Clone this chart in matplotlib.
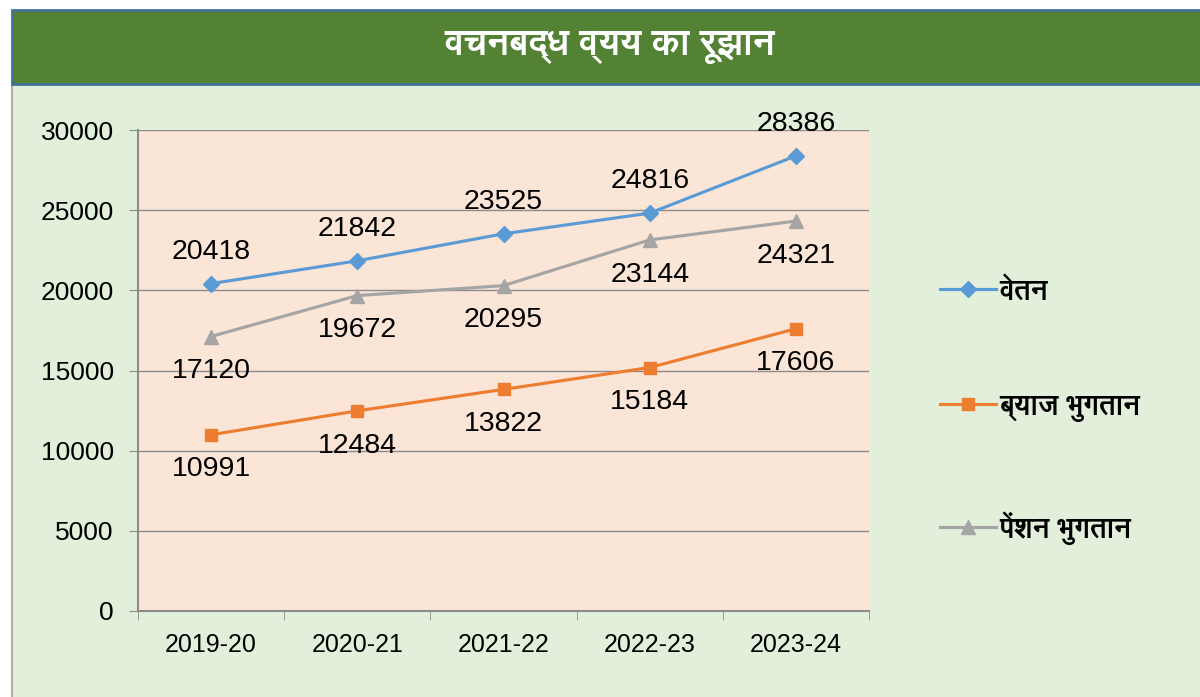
import glob
import matplotlib
matplotlib.use("Agg")
import matplotlib.pyplot as plt
from matplotlib.patches import Rectangle
from matplotlib import font_manager

categories = ["2019-20", "2020-21", "2021-22", "2022-23", "2023-24"]
salary = [20418, 21842, 23525, 24816, 28386]
interest = [10991, 12484, 13822, 15184, 17606]
pension = [17120, 19672, 20295, 23144, 24321]
series_names = ["वेतन", "ब्याज भुगतान", "पेंशन भुगतान"]
title_text = "वचनबद्ध व्यय का रूझान"
yticks = [0, 5000, 10000, 15000, 20000, 25000, 30000]

for pat in ["/usr/share/fonts/**/FreeSans*.ttf", "/usr/share/fonts/**/NotoSansDevanagari*.ttf"]:
    for fn in glob.glob(pat, recursive=True):
        try:
            font_manager.fontManager.addfont(fn)
        except Exception:
            pass

DEV = ["FreeSans", "Noto Sans Devanagari", "DejaVu Sans"]
NUM = ["Liberation Sans", "DejaVu Sans"]
plt.rcParams["font.family"] = ["Liberation Sans", "FreeSans", "DejaVu Sans"]

W, H = 1200, 697
fig = plt.figure(figsize=(W / 100, H / 100), dpi=100)
fig.patch.set_facecolor("white")

def fx(px):
    return px / W

def fy(py):
    return 1 - py / H

# body background
fig.patches.append(Rectangle((fx(12), 0), 1 - fx(12), fy(84), transform=fig.transFigure,
                             facecolor="#E2EFDA", edgecolor="none", zorder=0))
fig.add_artist(plt.Line2D([fx(12), fx(12)], [0, fy(84)], color="#A0A0A0", lw=1.2,
                          transform=fig.transFigure, zorder=0.5))
# title banner
fig.patches.append(Rectangle((fx(12), fy(84)), 1 - fx(12) + 0.01, fy(10) - fy(84), transform=fig.transFigure,
                             facecolor="#548235", edgecolor="#41719C", lw=2, zorder=1))
fig.text(fx(610), fy(47), title_text, color="white", fontsize=26, fontweight="bold",
         ha="center", va="center", family=DEV, zorder=3)

ax = fig.add_axes([fx(138), fy(611), fx(869) - fx(138), fy(130) - fy(611)])
ax.set_zorder(2)
ax.set_facecolor("#FBE5D6")
x = list(range(len(categories)))
ax.set_xlim(-0.5, len(categories) - 0.5)
ax.set_ylim(0, 30000)
ax.set_yticks(yticks)
ax.set_yticklabels([str(v) for v in yticks], fontsize=19, family=NUM)
ax.set_xticks(x)
ax.set_xticklabels(categories, fontsize=18, family=NUM)
ax.set_xticks([i - 0.5 for i in range(len(categories) + 1)], minor=True)
ax.tick_params(axis="x", which="major", length=0, pad=16)
ax.tick_params(axis="x", which="minor", length=6.5, color="#8C8C8C")
ax.tick_params(axis="y", length=6.5, color="#8C8C8C", pad=11)
ax.grid(axis="y", color="#8C8C8C", lw=1)
ax.set_axisbelow(True)
for s in ["top", "right"]:
    ax.spines[s].set_visible(False)
for s in ["left", "bottom"]:
    ax.spines[s].set_color("#8C8C8C")
    ax.spines[s].set_linewidth(1.5)

l1, = ax.plot(x, salary, color="#5B9BD5", lw=2.25, marker="D", ms=8, label=series_names[0], clip_on=False)
l2, = ax.plot(x, interest, color="#ED7D31", lw=2.25, marker="s", ms=9, label=series_names[1], clip_on=False)
l3, = ax.plot(x, pension, color="#A5A5A5", lw=2.25, marker="^", ms=10, label=series_names[2], clip_on=False)

for i, v in enumerate(salary):
    ax.annotate(str(v), (i, v), xytext=(0, 23), textcoords="offset points", ha="center", va="center",
                fontsize=20.5, family=NUM)
for series in (interest, pension):
    for i, v in enumerate(series):
        ax.annotate(str(v), (i, v), xytext=(0, -25), textcoords="offset points", ha="center", va="center",
                    fontsize=20.5, family=NUM)

leg = fig.legend(handles=[l1, l2, l3], loc="center left", bbox_to_anchor=(fx(940), fy(411)),
                 frameon=False, prop={"family": DEV, "size": 20, "weight": "bold"},
                 labelspacing=3.2, handlelength=2.0, handletextpad=0.15,
                 borderpad=0, borderaxespad=0)

fig.savefig("out.png", dpi=100)
